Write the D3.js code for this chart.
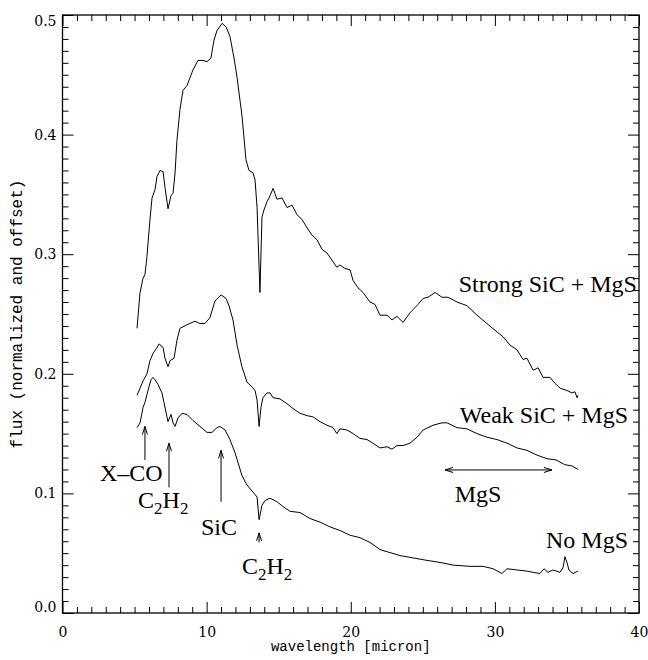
<!DOCTYPE html>
<html>
<head>
<meta charset="utf-8">
<script src="https://cdn.jsdelivr.net/npm/d3@7"></script>
<style>
  body { margin: 0; background: #fff; }
  svg { display: block; }
  .serif { font-family: 'Liberation Serif', 'Times New Roman', Times, serif; }
  .tick text { font-family: 'DejaVu Serif', 'Liberation Serif', serif; }
  .mono { font-family: 'Liberation Mono', 'DejaVu Sans Mono', monospace; }
</style>
</head>
<body>
<div id="chart"></div>
<script>
// strong SiC + MgS spectrum (micron, offset flux)
var strongWave = [5.17,5.38,5.59,5.72,5.86,6.07,6.21,6.42,6.56,6.77,6.98,7.11,7.32,7.53,7.67,7.81,7.94,8.15,8.36,8.64,9.05,9.40,9.75,10.03,10.30,10.51,10.72,11.07,11.35,11.62,11.90,12.11,12.46,12.73,12.94,13.22,13.36,13.50,13.64,13.70,13.84,13.98,14.19,14.33,14.61,14.88,15.23,15.58,15.92,16.27,16.62,16.97,17.31,17.66,18.01,18.35,18.70,19.04,19.25,19.60,19.95,20.16,20.50,20.85,21.34,21.68,22.03,22.52,22.86,23.21,23.63,24.11,24.67,25.02,25.36,25.85,26.33,26.75,27.37,28.06,28.76,29.45,30.15,30.57,31.05,31.54,31.95,32.23,32.65,33.00,33.34,33.83,34.17,34.52,35.01,35.35,35.56,35.70,35.76];
var strongFlux = [0.238,0.268,0.280,0.283,0.298,0.329,0.347,0.354,0.365,0.370,0.369,0.356,0.338,0.349,0.351,0.368,0.395,0.421,0.437,0.441,0.454,0.462,0.462,0.461,0.464,0.479,0.487,0.493,0.490,0.482,0.464,0.448,0.415,0.379,0.370,0.368,0.362,0.339,0.289,0.268,0.331,0.337,0.344,0.347,0.355,0.346,0.347,0.339,0.341,0.333,0.329,0.322,0.316,0.312,0.304,0.301,0.295,0.289,0.291,0.288,0.287,0.278,0.272,0.268,0.260,0.258,0.249,0.249,0.245,0.248,0.243,0.251,0.258,0.263,0.264,0.268,0.264,0.264,0.260,0.257,0.249,0.242,0.235,0.231,0.224,0.220,0.212,0.213,0.203,0.205,0.197,0.197,0.192,0.188,0.186,0.184,0.185,0.180,0.182];

// weak SiC + MgS spectrum
var weakWave = [5.17,5.38,5.59,5.86,6.07,6.28,6.56,6.70,6.98,7.11,7.32,7.46,7.74,7.94,8.15,8.64,9.19,9.54,9.89,10.23,10.58,11.00,11.35,11.55,11.83,12.11,12.45,12.80,13.15,13.36,13.50,13.64,13.77,13.91,14.19,14.40,14.61,15.09,15.58,15.99,16.48,16.97,17.38,17.87,18.35,18.77,19.04,19.25,19.74,20.16,20.64,21.13,21.54,22.03,22.52,22.86,23.21,23.63,24.11,24.60,25.02,25.71,26.33,26.68,27.37,28.06,28.76,29.45,30.15,30.84,31.54,32.23,32.92,33.62,34.24,34.86,35.35,35.76];
var weakFlux = [0.182,0.188,0.194,0.200,0.211,0.217,0.222,0.225,0.222,0.213,0.206,0.211,0.213,0.228,0.238,0.241,0.244,0.242,0.242,0.247,0.261,0.266,0.263,0.257,0.245,0.224,0.206,0.193,0.189,0.186,0.178,0.156,0.172,0.180,0.184,0.184,0.180,0.179,0.175,0.171,0.167,0.165,0.164,0.160,0.157,0.155,0.150,0.154,0.153,0.150,0.146,0.145,0.142,0.138,0.139,0.137,0.140,0.140,0.142,0.147,0.153,0.157,0.159,0.159,0.155,0.154,0.150,0.147,0.145,0.142,0.138,0.136,0.132,0.129,0.128,0.124,0.123,0.120];

// no MgS spectrum
var noWave = [5.17,5.38,5.59,5.72,5.93,6.14,6.28,6.42,6.63,6.90,7.04,7.25,7.32,7.53,7.67,7.81,8.01,8.29,8.64,9.05,9.54,10.03,10.37,10.72,10.93,11.28,11.62,11.97,12.45,12.80,13.22,13.50,13.64,13.84,14.05,14.40,14.88,15.30,15.79,16.48,17.17,17.87,18.56,19.25,19.95,20.64,21.34,22.03,23.42,25.29,26.33,27.10,28.28,29.18,29.87,30.49,30.84,31.54,32.23,32.65,33.13,33.41,33.69,34.03,34.52,34.73,34.86,35.01,35.14,35.42,35.76];
var noFlux = [0.155,0.159,0.172,0.176,0.186,0.195,0.197,0.195,0.191,0.184,0.176,0.164,0.160,0.166,0.159,0.156,0.163,0.167,0.166,0.161,0.156,0.151,0.151,0.155,0.156,0.153,0.145,0.134,0.115,0.107,0.101,0.097,0.078,0.090,0.094,0.096,0.093,0.089,0.085,0.084,0.079,0.076,0.072,0.069,0.065,0.063,0.059,0.053,0.048,0.044,0.042,0.040,0.039,0.039,0.037,0.033,0.037,0.036,0.035,0.034,0.033,0.037,0.034,0.036,0.034,0.038,0.047,0.042,0.036,0.033,0.035];

var xMajor = [0, 10, 20, 30, 40];
var yMajor = [0.0, 0.1, 0.2, 0.3, 0.4, 0.5];

var margin = {top: 15, right: 9, bottom: 47, left: 62.5};
var W = 648, H = 660;
var width = W - margin.left - margin.right,
    height = H - margin.top - margin.bottom;

var x = d3.scaleLinear().domain([0, 40]).range([0, width]);
var y = d3.scaleLinear().domain([0, 0.5]).range([height, 0]);

var svg = d3.select('#chart').append('svg')
  .attr('width', W)
  .attr('height', H);

var g = svg.append('g')
  .attr('transform', 'translate(' + margin.left + ',' + margin.top + ')');

var xMinor = d3.range(0, 41, 1).filter(function(d) { return d % 10 !== 0; });
var yMinor = d3.range(0, 51, 1).filter(function(d) { return d % 10 !== 0; }).map(function(d) { return d / 100; });

function styleAxis(sel) {
  sel.select('.domain').remove();
  sel.selectAll('line').attr('stroke', '#000').attr('stroke-width', 1);
}

// bottom
g.append('g').attr('transform', 'translate(0,' + height + ')')
  .call(d3.axisBottom(x).tickValues(xMinor).tickSizeInner(-6).tickSizeOuter(0).tickFormat(''))
  .call(styleAxis);
g.append('g').attr('class', 'xax').attr('transform', 'translate(0,' + height + ')')
  .call(d3.axisBottom(x).tickValues(xMajor).tickSizeInner(-11).tickSizeOuter(0).tickPadding(14).tickFormat(d3.format('d')))
  .call(styleAxis);
// top
g.append('g')
  .call(d3.axisTop(x).tickValues(xMinor).tickSizeInner(-6).tickSizeOuter(0).tickFormat(''))
  .call(styleAxis);
g.append('g')
  .call(d3.axisTop(x).tickValues(xMajor).tickSizeInner(-11).tickSizeOuter(0).tickFormat(''))
  .call(styleAxis);
// left
g.append('g')
  .call(d3.axisLeft(y).tickValues(yMinor).tickSizeInner(-6).tickSizeOuter(0).tickFormat(''))
  .call(styleAxis);
g.append('g').attr('class', 'yax')
  .call(d3.axisLeft(y).tickValues(yMajor).tickSizeInner(-11).tickSizeOuter(0).tickPadding(6).tickFormat(d3.format('.1f')))
  .call(styleAxis);
// right
g.append('g').attr('transform', 'translate(' + width + ',0)')
  .call(d3.axisRight(y).tickValues(yMinor).tickSizeInner(-6).tickSizeOuter(0).tickFormat(''))
  .call(styleAxis);
g.append('g').attr('transform', 'translate(' + width + ',0)')
  .call(d3.axisRight(y).tickValues(yMajor).tickSizeInner(-11).tickSizeOuter(0).tickFormat(''))
  .call(styleAxis);

g.selectAll('.xax, .yax')
  .attr('font-family', null)
  .attr('font-size', 14);
g.selectAll('.xax text, .yax text').attr('fill', '#000');

// end labels pulled inside the box like the original
g.selectAll('.yax .tick text')
  .attr('dy', function(d) {
    if (d === 0.5) return '0.75em';
    if (d === 0) return '-0.1em';
    return '0.32em';
  });

g.append('rect')
  .attr('width', width).attr('height', height)
  .attr('fill', 'none').attr('stroke', '#000').attr('stroke-width', 1.3);

// spectra
var line = d3.line()
  .x(function(d) { return x(d[0]); })
  .y(function(d) { return y(d[1]); });

[[strongWave, strongFlux], [weakWave, weakFlux], [noWave, noFlux]].forEach(function(s) {
  g.append('path')
    .datum(d3.zip(s[0], s[1]))
    .attr('d', line)
    .attr('fill', 'none')
    .attr('stroke', '#000')
    .attr('stroke-width', 1);
});

// axis titles
svg.append('text')
  .attr('class', 'mono')
  .attr('x', margin.left + x(20)).attr('y', 651)
  .attr('text-anchor', 'middle')
  .attr('font-size', 14)
  .text('wavelength [micron]');

svg.append('text')
  .attr('class', 'mono')
  .attr('transform', 'translate(22,' + (margin.top + y(0.25)) + ') rotate(-90)')
  .attr('text-anchor', 'middle')
  .attr('font-size', 16)
  .text('flux (normalized and offset)');

// labels
var labels = [
  {t: 'Strong SiC + MgS', x: 39.86, y: 0.268, a: 'end'},
  {t: 'Weak SiC + MgS', x: 39.24, y: 0.159, a: 'end'},
  {t: 'No MgS', x: 39.24, y: 0.054, a: 'end'},
  {t: 'MgS', x: 28.83, y: 0.093, a: 'middle'},
  {t: 'X\u2013CO', x: 2.60, y: 0.110, a: 'start'},
  {t: 'SiC', x: 9.61, y: 0.065, a: 'start'}
];
labels.forEach(function(l) {
  g.append('text')
    .attr('class', 'serif')
    .attr('x', x(l.x)).attr('y', y(l.y))
    .attr('text-anchor', l.a)
    .attr('font-size', 24)
    .text(l.t);
});

// C2H2 with subscripts
[[5.24, 0.088], [12.45, 0.033]].forEach(function(p) {
  var t = g.append('text')
    .attr('class', 'serif')
    .attr('x', x(p[0])).attr('y', y(p[1]))
    .attr('font-size', 24);
  t.append('tspan').text('C');
  t.append('tspan').attr('font-size', 17).attr('dy', 6).text('2');
  t.append('tspan').attr('dy', -6).text('H');
  t.append('tspan').attr('font-size', 17).attr('dy', 6).text('2');
});

// feature arrows
var arrows = [
  {x: 5.72, tip: 0.156, tail: 0.128},
  {x: 7.39, tip: 0.142, tail: 0.105},
  {x: 11.0, tip: 0.136, tail: 0.093},
  {x: 13.64, tip: 0.067, tail: 0.059}
];
arrows.forEach(function(a) {
  var px = x(a.x), t = y(a.tip), b = y(a.tail);
  g.append('path')
    .attr('d', 'M' + px + ',' + b + 'V' + t + 'M' + (px - 2.5) + ',' + (t + 8) + 'L' + px + ',' + t + 'L' + (px + 2.5) + ',' + (t + 8))
    .attr('fill', 'none').attr('stroke', '#000').attr('stroke-width', 1);
});

// MgS band double arrow
var mx0 = x(26.54), mx1 = x(33.96), my = y(0.1196);
g.append('path')
  .attr('d', 'M' + mx0 + ',' + my + 'H' + mx1 +
    'M' + (mx0 + 8) + ',' + (my - 2.5) + 'L' + mx0 + ',' + my + 'L' + (mx0 + 8) + ',' + (my + 2.5) +
    'M' + (mx1 - 8) + ',' + (my - 2.5) + 'L' + mx1 + ',' + my + 'L' + (mx1 - 8) + ',' + (my + 2.5))
  .attr('fill', 'none').attr('stroke', '#000').attr('stroke-width', 1);
</script>
</body>
</html>
